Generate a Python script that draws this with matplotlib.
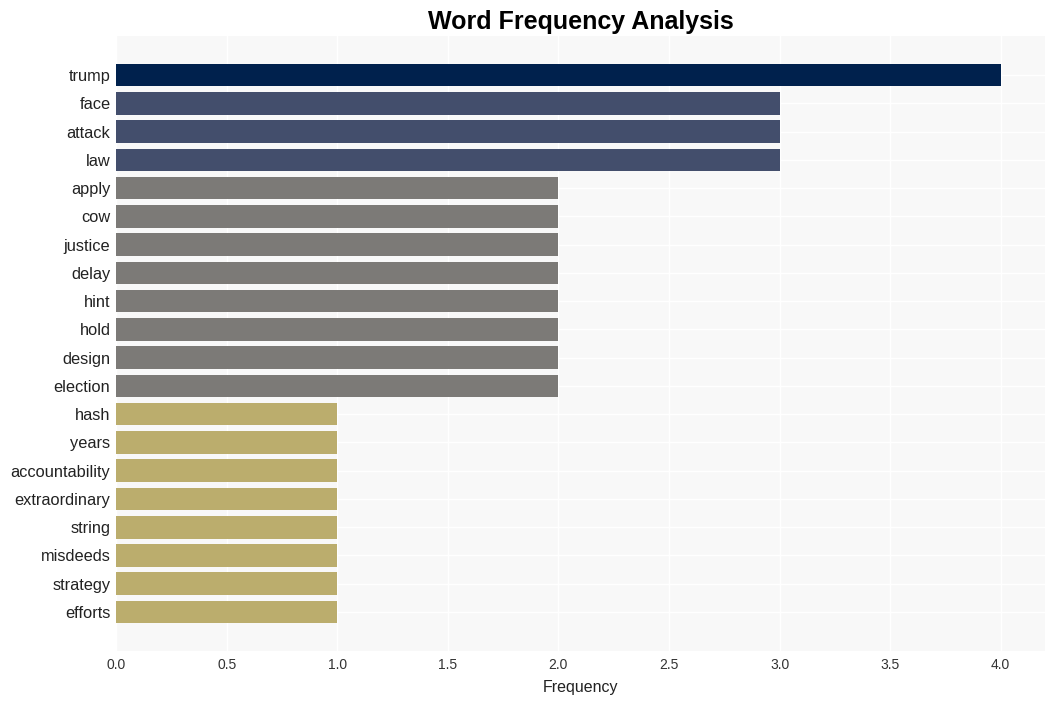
#!/usr/bin/env python3
"""Word frequency horizontal bar chart."""

import matplotlib
matplotlib.use('Agg')
import matplotlib.pyplot as plt

plt.rcParams['font.family'] = ['Liberation Sans', 'DejaVu Sans']

words = ['trump', 'face', 'attack', 'law', 'apply', 'cow', 'justice', 'delay',
         'hint', 'hold', 'design', 'election', 'hash', 'years', 'accountability',
         'extraordinary', 'string', 'misdeeds', 'strategy', 'efforts']
counts = [4, 3, 3, 3, 2, 2, 2, 2, 2, 2, 2, 2, 1, 1, 1, 1, 1, 1, 1, 1]

# colour by frequency level
level_colors = {4: '#00214d', 3: '#434e6c', 2: '#7c7a77', 1: '#bbad6d'}

fig = plt.figure(figsize=(10.55, 7.01), dpi=100)
ax = fig.add_axes([0.110, 0.0713, 0.8805, 0.8773])
ax.set_facecolor('#f8f8f8')

pos = list(range(len(words)))
ax.barh(pos, counts, height=0.8, color=[level_colors[c] for c in counts], zorder=3)

ax.set_yticks(pos)
ax.set_yticklabels(words, fontsize=11.8, color='#222222')
ax.set_ylim(len(words) - 1 + 1.38, -1.38)
ax.set_xlim(0, 4.2)
ax.set_xticks([0, 0.5, 1.0, 1.5, 2.0, 2.5, 3.0, 3.5, 4.0])
ax.tick_params(axis='x', labelsize=10, colors='#333333', length=0, pad=5)
ax.tick_params(axis='y', length=0, pad=4)
ax.grid(True, color='white', linewidth=1, zorder=0)
for s in ax.spines.values():
    s.set_visible(False)

ax.set_xlabel('Frequency', fontsize=11.5, color='#222222', labelpad=6)
ax.set_title('Word Frequency Analysis', fontsize=18, fontweight='bold', pad=5)

fig.savefig('out.png', dpi=100)
